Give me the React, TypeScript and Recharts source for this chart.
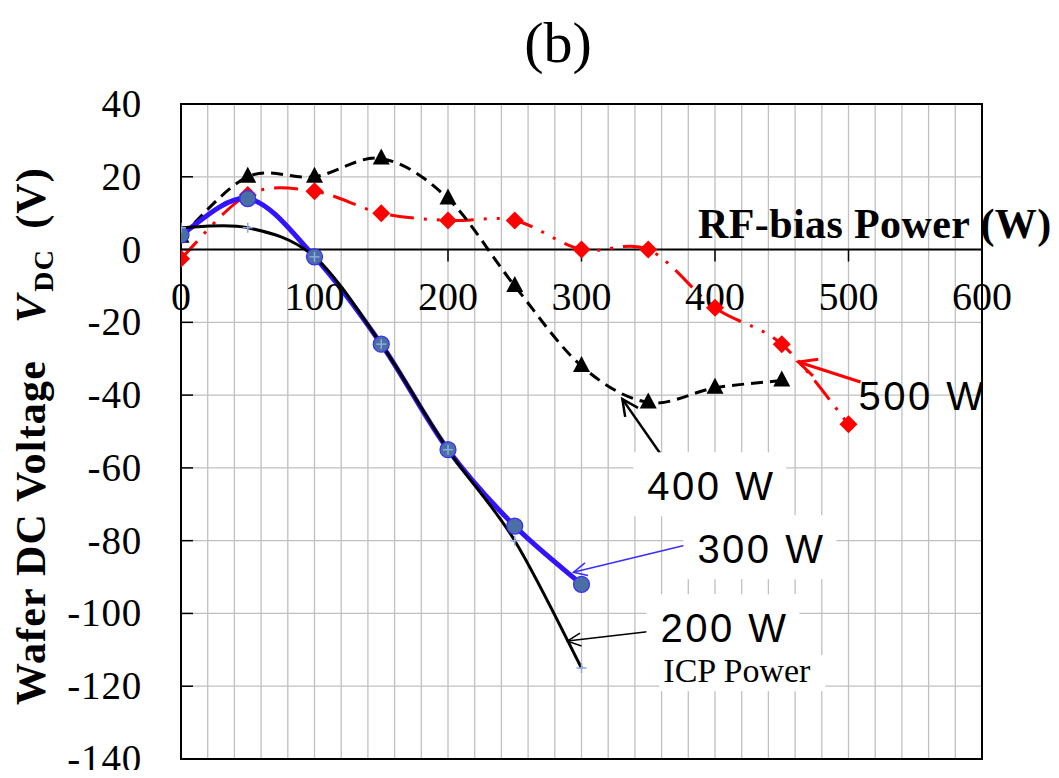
import React from 'react';
import {
  LineChart,
  Line,
  XAxis,
  YAxis,
  CartesianGrid,
  ReferenceLine,
  ReferenceDot,
  ReferenceArea,
} from 'recharts';

// RF-bias power (W) vs wafer DC voltage (V) for each ICP power
const rfPower200 = [0, 50, 100, 150, 200, 250, 300];
const vdc200 = [6, 6, -2, -26, -55, -80, -115];

const rfPower300 = [0, 50, 100, 150, 200, 250, 300];
const vdc300 = [4, 14, -2, -26, -55, -76, -92];

const rfPower400 = [0, 50, 100, 150, 200, 250, 300, 350, 400, 450];
const vdc400 = [3.5, 20, 20, 25, 14, -10, -32, -42, -38, -36];

const rfPower500 = [0, 50, 100, 150, 200, 250, 300, 350, 400, 450, 500];
const vdc500 = [-2.5, 15, 16, 10, 8, 8, 0, 0, -16, -26, -48];

const xTickLabels = [0, 100, 200, 300, 400, 500, 600];
const yTickLabels = [-140, -120, -100, -80, -60, -40, -20, 0, 20, 40];
const xGridTicks = Array.from({ length: 31 }, (_, i) => i * 20);

const toRows = (xs: number[], ys: number[]) => xs.map((x, i) => ({ x, v: ys[i] }));

const series200 = toRows(rfPower200, vdc200);
const series300 = toRows(rfPower300, vdc300);
const series400 = toRows(rfPower400, vdc400);
const series500 = toRows(rfPower500, vdc500);

const SERIF = '"Liberation Serif", "Times New Roman", serif';
const SANS = '"Liberation Sans", Arial, sans-serif';

const W = 1043;
const H = 770;

// smoothed line through the points (catmull-rom bezier, like spreadsheet "smoothed line")
const smoothCurve = (context: any) => {
  let pts: number[][] = [];
  return {
    areaStart() {},
    areaEnd() {},
    lineStart() {
      pts = [];
    },
    point(x: number, y: number) {
      pts.push([+x, +y]);
    },
    lineEnd() {
      const n = pts.length;
      if (!n) return;
      context.moveTo(pts[0][0], pts[0][1]);
      for (let i = 0; i < n - 1; i++) {
        const p0 = pts[Math.max(i - 1, 0)];
        const p1 = pts[i];
        const p2 = pts[i + 1];
        const p3 = pts[Math.min(i + 2, n - 1)];
        context.bezierCurveTo(
          p1[0] + (p2[0] - p0[0]) / 6,
          p1[1] + (p2[1] - p0[1]) / 6,
          p2[0] - (p3[0] - p1[0]) / 6,
          p2[1] - (p3[1] - p1[1]) / 6,
          p2[0],
          p2[1]
        );
      }
    },
  };
};

// minor vertical grid every 20 W, placed with the x scale
const verticalGrid = (props: any) => {
  const { xAxis, offset } = props;
  if (xAxis && typeof xAxis.scale === 'function') {
    return xGridTicks.map((v) => xAxis.scale(v));
  }
  return xGridTicks.map((v) => offset.left + (v / 600) * offset.width);
};

const PlusDot = (p: any) => (
  <g key={p.key ?? `${p.cx}-${p.cy}`}>
    <line x1={p.cx - 5} x2={p.cx + 5} y1={p.cy} y2={p.cy} stroke="#8faadc" strokeWidth={1.5} />
    <line x1={p.cx} x2={p.cx} y1={p.cy - 5} y2={p.cy + 5} stroke="#8faadc" strokeWidth={1.5} />
  </g>
);

const CircleDot = (p: any) => (
  <circle key={p.key ?? `${p.cx}-${p.cy}`} cx={p.cx} cy={p.cy} r={8} fill="#4a6fa5" stroke="#3a2cff" strokeWidth={1.2} />
);

const TriangleDot = (p: any) => (
  <polygon
    key={p.key ?? `${p.cx}-${p.cy}`}
    points={`${p.cx},${p.cy - 10} ${p.cx + 8.5},${p.cy + 6} ${p.cx - 8.5},${p.cy + 6}`}
    fill="#000"
  />
);

const DiamondDot = (p: any) => (
  <polygon
    key={p.key ?? `${p.cx}-${p.cy}`}
    points={`${p.cx},${p.cy - 9} ${p.cx + 9},${p.cy} ${p.cx},${p.cy + 9} ${p.cx - 9},${p.cy}`}
    fill="#ff0000"
  />
);

const YTick = (props: any) => {
  const { x, y, payload } = props;
  const axisX = x + 39;
  return (
    <g>
      <line x1={axisX} x2={axisX + 12} y1={y} y2={y} stroke="#000" strokeWidth={1.5} />
      <text x={x} y={y + 13} textAnchor="end" fontFamily={SERIF} fontSize={39} letterSpacing={0.8} fill="#000">
        {payload.value}
      </text>
    </g>
  );
};

const xTickShape = (label: number) => (p: any) => (
  <g>
    <line x1={p.cx} x2={p.cx} y1={p.cy} y2={p.cy + 12} stroke="#000" strokeWidth={1.5} />
    <text x={p.cx} y={p.cy + 60} textAnchor="middle" fontFamily={SERIF} fontSize={40} fill="#000">
      {label}
    </text>
  </g>
);

const arrowShape = (color: string, width: number, head: number) => (p: any) => {
  const { x1, y1, x2, y2 } = p;
  const a = Math.atan2(y2 - y1, x2 - x1);
  const spread = 0.45;
  const hx1 = x2 - head * Math.cos(a - spread);
  const hy1 = y2 - head * Math.sin(a - spread);
  const hx2 = x2 - head * Math.cos(a + spread);
  const hy2 = y2 - head * Math.sin(a + spread);
  return (
    <g>
      <line x1={x1} y1={y1} x2={x2} y2={y2} stroke={color} strokeWidth={width} />
      <polyline
        points={`${hx1},${hy1} ${x2},${y2} ${hx2},${hy2}`}
        fill="none"
        stroke={color}
        strokeWidth={width}
      />
    </g>
  );
};

const boxedLabel = (text: string, boxed: boolean) => (p: any) => {
  const w = text.length * 25;
  return (
    <g clipPath={p.clipPath}>
      {boxed && <rect x={p.cx - 14} y={p.cy - 48} width={w + 28} height={64} fill="#fff" />}
      <text x={p.cx} y={p.cy} fontFamily={SANS} fontSize={40} letterSpacing={2.5} fill="#000">
        {text}
      </text>
    </g>
  );
};

const icpShape = (p: any) => (
  <g>
    <rect x={p.cx - 4} y={p.cy - 27} width={166} height={36} fill="#fff" />
    <text x={p.cx} y={p.cy} fontFamily={SERIF} fontSize={34} fill="#000">
      ICP Power
    </text>
  </g>
);

export default function App() {
  return (
    <div style={{ position: 'relative', width: W, height: H, marginBottom: -8 }}>
      <LineChart width={W} height={H} margin={{ top: 96, right: 69, bottom: 19, left: 0 }}>
        <CartesianGrid
          stroke="#c0c0c0"
          strokeWidth={1.3}
          verticalCoordinatesGenerator={verticalGrid}
        />
        <XAxis
          type="number"
          dataKey="x"
          domain={[0, 600]}
          ticks={xGridTicks}
          interval={0}
          tick={false}
          tickLine={false}
          axisLine={false}
          height={0}
          allowDataOverflow
        />
        <YAxis
          type="number"
          domain={[-140, 40]}
          ticks={yTickLabels}
          interval={0}
          width={173}
          tickSize={0}
          tickMargin={39}
          tickLine={false}
          tick={<YTick />}
          axisLine={{ stroke: '#000', strokeWidth: 2 }}
          allowDataOverflow
        />
        <ReferenceArea x1={0} x2={600} y1={-140} y2={40} fill="none" stroke="#000" strokeWidth={2} />
        <ReferenceLine y={0} stroke="#000" strokeWidth={2} />
        {xTickLabels.map((t) => (
          <ReferenceDot key={`xt${t}`} x={t} y={0} r={1} shape={xTickShape(t)} />
        ))}

        <ReferenceDot x={349.3} y={-68.9} r={1} shape={boxedLabel('400 W', true)} />
        <ReferenceDot x={386.8} y={-86.2} r={1} shape={boxedLabel('300 W', true)} />
        <ReferenceDot x={359.1} y={-107.9} r={1} shape={boxedLabel('200 W', true)} />
        <ReferenceDot x={361.3} y={-118.9} r={1} shape={icpShape} />
        <ReferenceDot x={507.5} y={-44.1} r={1} ifOverflow="hidden" shape={boxedLabel('500 W', false)} />

        <ReferenceLine
          segment={[{ x: 509, y: -36.4 }, { x: 462.5, y: -30.9 }]}
          shape={arrowShape('#ff0000', 3, 20)}
        />
        <ReferenceLine
          segment={[{ x: 365, y: -59.2 }, { x: 330.6, y: -41.1 }]}
          shape={arrowShape('#000', 2.5, 18)}
        />
        <ReferenceLine
          segment={[{ x: 383, y: -80.8 }, { x: 293.9, y: -88.7 }]}
          shape={arrowShape('#3a2cff', 1.5, 15)}
        />
        <ReferenceLine
          segment={[{ x: 359, y: -104.6 }, { x: 289.4, y: -107.6 }]}
          shape={arrowShape('#000', 1.5, 15)}
        />

        <Line
          data={series500}
          dataKey="v"
          type={smoothCurve as any}
          stroke="#ff0000"
          strokeWidth={3}
          strokeDasharray="24 10 3 10 3 10"
          dot={DiamondDot}
          activeDot={false}
          isAnimationActive={false}
        />
        <Line
          data={series400}
          dataKey="v"
          type={smoothCurve as any}
          stroke="#000"
          strokeWidth={3}
          strokeDasharray="12 7"
          dot={TriangleDot}
          activeDot={false}
          isAnimationActive={false}
        />
        <Line
          data={series300}
          dataKey="v"
          type={smoothCurve as any}
          stroke="#3314ff"
          strokeWidth={5}
          dot={CircleDot}
          activeDot={false}
          isAnimationActive={false}
        />
        <Line
          data={series200}
          dataKey="v"
          type={smoothCurve as any}
          stroke="#000"
          strokeWidth={3}
          dot={PlusDot}
          activeDot={false}
          isAnimationActive={false}
        />
      </LineChart>

      <svg
        width={W}
        height={H}
        style={{ position: 'absolute', left: 0, top: 0, pointerEvents: 'none', overflow: 'visible' }}
      >
        <text x={550} y={54} textAnchor="middle" fontFamily={SERIF} fontSize={58} fill="#000">
          (b)
        </text>
        <text x={690} y={230} fontFamily={SERIF} fontSize={42} fontWeight="bold" letterSpacing={0.4} fill="#000">
          RF-bias Power (W)
        </text>
        <text
          transform="translate(37, 697) rotate(-90)"
          fontFamily={SERIF}
          fontSize={42}
          fontWeight="bold"
          letterSpacing={1.2}
          fill="#000"
        >
          <tspan>Wafer DC Voltage</tspan>
          <tspan dx={37} fontStyle="italic">V</tspan>
          <tspan dx={2} dy={8} fontSize={28}>DC</tspan>
          <tspan dx={20} dy={-8}>(V)</tspan>
        </text>
      </svg>
    </div>
  );
}
